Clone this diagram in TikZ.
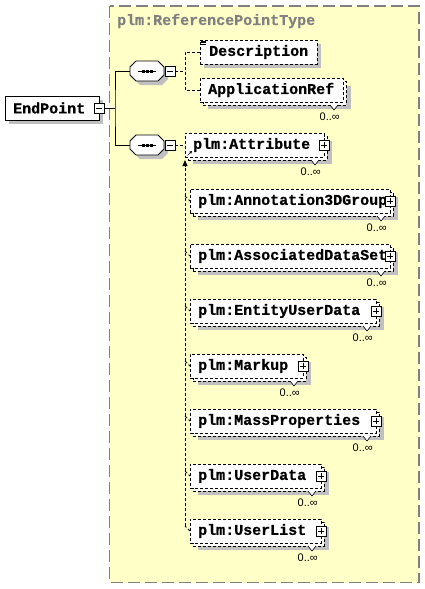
\documentclass[tikz,border=0pt]{standalone}
\usepackage{fontspec}
\usetikzlibrary{calc,arrows.meta}
\newfontfamily\monob{Liberation Mono}[BoldFeatures={FakeBold=0.6}]
\newfontfamily\occf{Liberation Sans}
\definecolor{bgy}{HTML}{FFFFC8}
\definecolor{bgg}{HTML}{808080}
\definecolor{shd}{HTML}{C0C0C0}
\newcommand\lblfont{\monob\bfseries\fontsize{15}{15}\selectfont}
\newcommand\occfont{\occf\fontsize{11}{11}\selectfont}
\tikzset{
 dsh/.style={dash pattern=on 3pt off 2pt},
 ebox/.style={draw, dsh, fill=white, line width=0.8pt, minimum height=24pt, inner sep=0pt, outer sep=0pt, anchor=north west, rectangle},
 lbl/.style={font=\lblfont, inner sep=0pt, anchor=west},
 occ/.style={font=\occfont, inner sep=0pt, anchor=east},
 pm/.style={draw, solid, fill=white, minimum size=10pt, inner sep=0pt, outer sep=0pt, line width=0.8pt, rectangle},
 seqframe/.style={minimum width=34pt, minimum height=20pt, inner sep=0pt, outer sep=0pt, rectangle},
 octline/.style={draw, fill=white, line width=0.8pt},
 conn/.style={line width=0.8pt},
 dconn/.style={line width=0.8pt, dsh},
}
\newcommand\plusbox[1]{%
  \node[pm] (#1p) at (#1.east) {};
  \draw[line width=0.8pt] ([shift={(2,0)}]#1p.west) -- ([shift={(-2,0)}]#1p.east)
     ([shift={(0,2)}]#1p.north) -- ([shift={(0,-2)}]#1p.south);
}
\newcommand\minusbox[2]{% name, at
  \node[pm] (#1) at (#2) {};
  \draw[line width=0.8pt] ([shift={(2,0)}]#1.west) -- ([shift={(-2,0)}]#1.east);
}
\newcommand\multielem[6]{% name, L, T, W, text, plus
  \fill[shd] (#2+8,#3+8) rectangle (#2+#4+8,#3+31);
  \node[ebox, minimum width=#4pt] (#1b) at (#2+3,#3+3) {};
  \node[ebox, minimum width=#4pt] (#1) at (#2,#3) {};
  \node[lbl] at ([shift={(8,0)}]#1.west) {#5};
  \draw[line width=0.6pt, fill=white] ([shift={(-16,0)}]#1b.south east) -- ++(4,5) -- ++(4,-5);
  \node[occ] at ([shift={(-6,12)}]#1b.south east) {0..∞};
  \ifnum#6=1 \plusbox{#1}\fi
}
\newcommand\octo[2]{(#1-11,#2-10) -- (#1+11,#2-10) -- (#1+17,#2-4) -- (#1+17,#2+4) -- (#1+11,#2+10) -- (#1-11,#2+10) -- (#1-17,#2+4) -- (#1-17,#2-4) -- cycle}
\newcommand\seqnode[3]{% name, cx, cy
  \fill[shd] \octo{#2+4}{#3+4};
  \path[octline] \octo{#2}{#3};
  \node[seqframe] (#1) at (#2,#3) {};
  \draw[line width=0.8pt] ([shift={(8,0)}]#1.west) -- ([shift={(-8,0)}]#1.east);
  \foreach \dx in {-4,0,4} \fill ([shift={(\dx-1.5,-1.5)}]#1.center) rectangle ++(3,3);
  \minusbox{#1m}{[shift={(6,0)}]#1.east}
}
\begin{document}
\begin{tikzpicture}[x=1pt,y=-1pt]
\useasboundingbox (0,0) rectangle (425,589);
% background region
\path[fill=bgy, draw=bgg, line width=1.5pt, dash pattern=on 12pt off 5pt] (109.5,6) rectangle (419,582.5);
\node[font=\lblfont, text=bgg, anchor=west, inner sep=0pt] (title) at (117,21) {plm:ReferencePointType};
% EndPoint
\fill[shd] (9,100) rectangle (103,124);
\node[draw, fill=white, line width=0.8pt, minimum width=94pt, minimum height=24pt, inner sep=0pt, outer sep=0pt, anchor=north west] (ep) at (5,96) {};
\node[lbl] at ([shift={(8,0)}]ep.west) {EndPoint};
\minusbox{epm}{ep.east}
% sequences
\seqnode{seqa}{147}{71}
\seqnode{seqb}{147}{145}
% Description
\fill[shd] (204,44) rectangle (321,68);
\node[ebox, minimum width=117pt] (desc) at (200,40) {};
\node[lbl] at ([shift={(9,0)}]desc.west) {Description};
\draw[line width=0.7pt] (201,41) -- (206,41) (201,42.7) -- (206,42.7) (201,44.4) -- (206,44.4);
% ApplicationRef
\multielem{appref}{200}{78}{143}{ApplicationRef}{0}
% Attribute
\multielem{attr}{185}{133}{139}{plm:Attribute}{1}
\draw[line width=0.6pt, -{Stealth[length=2.8pt,width=2.8pt]}] ([shift={(2.5,-1.5)}]attr.south west) -- ++(4.5,-4.5);
% substitution members
\multielem{ann}{190}{189}{200}{plm:Annotation3DGroup}{1}
\multielem{ads}{190}{244}{200}{plm:AssociatedDataSet}{1}
\multielem{eud}{190}{299}{186}{plm:EntityUserData}{1}
\multielem{mku}{190}{354}{113}{plm:Markup}{1}
\multielem{mpr}{190}{409}{186}{plm:MassProperties}{1}
\multielem{udt}{190}{464}{131}{plm:UserData}{1}
\multielem{uls}{190}{519}{131}{plm:UserList}{1}
% connectors
\coordinate (j1) at (115,108);
\draw[conn] (epm.east) -- (j1);
\draw[conn] (seqa.west) -| (j1) |- (seqb.west);
\coordinate (j2) at (185,71);
\draw[dconn] (seqam.east) -- (j2);
\draw[dconn] (desc.west) -| (j2) |- (appref.west);
\draw[dconn] (seqbm.east) -- (attr.west);
\coordinate (stop) at (185,160);
\coordinate (sbot) at ([shift={(-5,-5)}]uls.west);
\draw[dconn] (uls.west) -- (sbot);
\draw[dconn, -{Triangle[length=6pt,width=5pt]}] (sbot) -- (stop);
\foreach \m in {ann,ads,eud,mku,mpr,udt}
  \draw[dconn] ([shift={(-5,-5)}]\m.west) -- (\m.west);
\end{tikzpicture}
\end{document}
